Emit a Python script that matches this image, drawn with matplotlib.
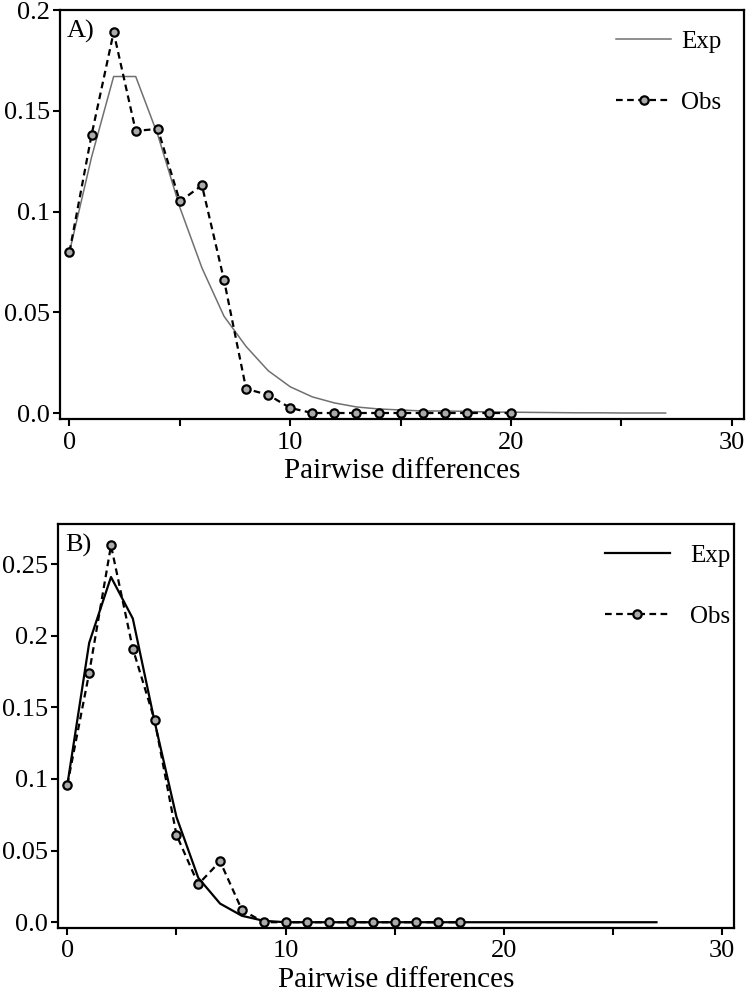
import matplotlib
matplotlib.use('Agg')
import matplotlib.pyplot as plt

plt.rcParams['font.family'] = ['Liberation Serif', 'DejaVu Serif']

# Panel A data
obs_a_x = list(range(0, 21))
obs_a_y = [0.080, 0.138, 0.189, 0.140, 0.141, 0.105, 0.113, 0.066, 0.012, 0.009,
           0.0025, 0, 0, 0, 0, 0, 0, 0, 0, 0, 0]
exp_a_x = list(range(0, 28))
exp_a_y = [0.080, 0.127, 0.167, 0.167, 0.138, 0.102, 0.072, 0.048, 0.033, 0.021,
           0.013, 0.008, 0.005, 0.003, 0.002, 0.0015, 0.001, 0.001, 0.0008, 0.0005,
           0.0004, 0.0003, 0.0002, 0.0001, 0.0001, 0, 0, 0]

# Panel B data
obs_b_x = list(range(0, 19))
obs_b_y = [0.096, 0.174, 0.263, 0.191, 0.141, 0.061, 0.0265, 0.0425, 0.0086, 0.0,
           0, 0, 0, 0, 0, 0, 0, 0, 0]
exp_b_x = list(range(0, 28))
exp_b_y = [0.096, 0.195, 0.241, 0.212, 0.140, 0.0735, 0.031, 0.013, 0.0045, 0.001] + [0] * 18

x_ticks = [0, 5, 10, 15, 20, 25, 30]
x_ticklabels = ['0', '', '10', '', '20', '', '30']

fig = plt.figure(figsize=(7.48, 9.93), dpi=100)
ax_a = fig.add_axes([0.0802, 0.578, 0.9144, 0.4119])
ax_b = fig.add_axes([0.0775, 0.0655, 0.9037, 0.4068])

def style(ax, ylim, yticks, yticklabels):
    ax.set_xlim(-0.43, 30.55)
    ax.set_ylim(*ylim)
    ax.set_xticks(x_ticks)
    ax.set_xticklabels(x_ticklabels)
    ax.set_yticks(yticks)
    ax.set_yticklabels(yticklabels)
    for s in ax.spines.values():
        s.set_linewidth(1.6)
    ax.tick_params(direction='out', length=5, width=1.5, labelsize=19)
    ax.tick_params(axis='x', pad=4)
    ax.tick_params(axis='y', pad=2)
    ax.set_xlabel('Pairwise differences', fontsize=21, labelpad=3)

# Panel A
ax_a.plot(exp_a_x, exp_a_y, color='#707070', lw=1.1, label='Exp')
ax_a.plot(obs_a_x, obs_a_y, color='black', ls=(0, (3, 2)), lw=1.6, marker='o', ms=6,
          mfc='#aaaaaa', mec='black', mew=1.6, label='Obs')
style(ax_a, (-0.003, 0.2), [0, 0.05, 0.1, 0.15, 0.2], ['0.0', '0.05', '0.1', '0.15', '0.2'])
ax_a.text(0.01, 0.975, 'A)', transform=ax_a.transAxes, fontsize=19, va='top', ha='left')
ax_a.legend(loc='upper left', bbox_to_anchor=(0.813, 0.95), frameon=False, fontsize=18,
            handlelength=2.2, labelspacing=1.55, borderpad=0, borderaxespad=0,
            handletextpad=0.4)

# Panel B
ax_b.plot(exp_b_x, exp_b_y, color='black', lw=1.6, label='Exp')
ax_b.plot(obs_b_x, obs_b_y, color='black', ls=(0, (3, 2)), lw=1.6, marker='o', ms=6,
          mfc='#aaaaaa', mec='black', mew=1.6, label='Obs')
style(ax_b, (-0.004, 0.278), [0, 0.05, 0.1, 0.15, 0.2, 0.25],
      ['0.0', '0.05', '0.1', '0.15', '0.2', '0.25'])
ax_b.text(0.01, 0.975, 'B)', transform=ax_b.transAxes, fontsize=19, va='top', ha='left')
ax_b.legend(loc='upper left', bbox_to_anchor=(0.809, 0.95), frameon=False, fontsize=18,
            handlelength=2.6, labelspacing=1.55, borderpad=0, borderaxespad=0,
            handletextpad=0.8)

fig.savefig('out.png', dpi=100)
